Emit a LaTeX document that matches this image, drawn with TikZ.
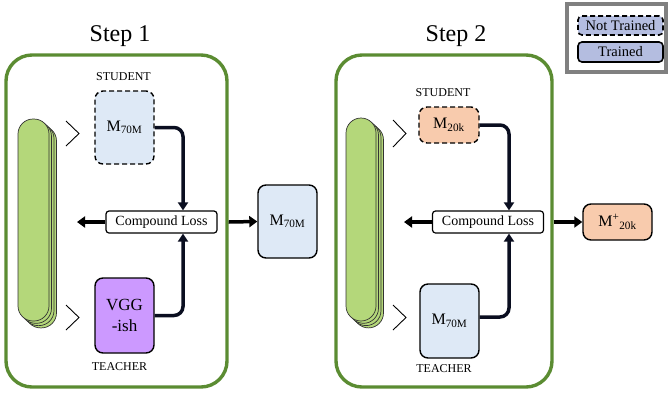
\documentclass[tikz,border=0pt]{standalone}
\usepackage{fontspec}
\setmainfont{Liberation Serif}
\usetikzlibrary{arrows.meta}
\definecolor{framegreen}{RGB}{91,140,50}
\definecolor{stackgreen}{RGB}{180,215,122}
\definecolor{lightblue}{RGB}{222,233,246}
\definecolor{peach}{RGB}{248,203,173}
\definecolor{purple}{RGB}{204,153,255}
\definecolor{lavender}{RGB}{180,189,224}
\definecolor{connc}{RGB}{10,14,32}
\tikzset{
  frame/.style={draw=framegreen, line width=3.4pt, rounded corners=26pt, inner sep=0pt},
  model/.style={draw=black, line width=1.4pt, rounded corners=8pt, inner sep=0pt, align=center, font=\fontsize{16}{18}\selectfont},
  untrained/.style={dash pattern=on 5pt off 3pt},
  role/.style={font=\fontsize{12}{14}\selectfont},
  title/.style={font=\fontsize{24}{28}\selectfont},
  lossbox/.style={draw=black, line width=1.2pt, rounded corners=3pt, fill=white, minimum width=111pt, minimum height=22pt, inner sep=0pt, font=\fontsize{14}{16}\selectfont},
  conn/.style={draw=connc, line width=3.5pt, rounded corners=9pt, -{Triangle[length=8pt,width=10pt]}},
  arr/.style={draw=black, line width=3.5pt, -{Triangle[length=8pt,width=11pt]}},
  chev/.style={draw=black, line width=0.9pt},
  stack/.style={draw=black!80, line width=0.7pt, fill=stackgreen, rounded corners=15pt},
  legbox/.style={line width=1.6pt, draw=black, fill=lavender, rounded corners=4pt, minimum width=85pt, inner sep=0pt, font=\fontsize{14.5}{16}\selectfont},
}
\begin{document}
\begin{tikzpicture}[x=1pt,y=-1pt]
\useasboundingbox (0,0) rectangle (669,392);

% ---------- Step 1 ----------
\node[title] (t1) at (120,36) {Step 1};
\node[frame, minimum width=221pt, minimum height=332pt] (f1) at (116.5,221) {};
\foreach \i in {3,2,1,0}{
  \draw[stack] (18+2.5*\i,119+2.3*\i) rectangle (49+2.5*\i,321+2.3*\i);
}
\draw[chev] (66,121) -- (79,133.5) -- (66,146);
\draw[chev] (66,305) -- (79,317.5) -- (66,330);
\node[role] (st1) at (123.5,77) {STUDENT};
\node[model, untrained, fill=lightblue, minimum width=59pt, minimum height=73pt] (s1) at (124.5,127.5) {M\textsubscript{70M}};
\node[model, fill=purple, minimum width=59pt, minimum height=75pt, font=\fontsize{17}{21}\selectfont] (v1) at (124.5,315.5) {VGG\\-ish};
\node[role] (te1) at (119.5,367) {TEACHER};
\node[lossbox] (l1) at (161.5,222) {Compound Loss};
\coordinate (o1) at (77,222);
\draw[conn] (s1.east) -| ([xshift=21.5pt]l1.north);
\draw[conn] (v1.east) -| ([xshift=21.5pt]l1.south);
\draw[arr] (l1.west) -- (o1);
\node[model, fill=lightblue, minimum width=59pt, minimum height=73pt] (m1) at (287.5,221.5) {M\textsubscript{70M}};
\draw[arr] (f1.east |- l1.east) -- (m1.west);

% ---------- Step 2 ----------
\node[title] (t2) at (456,36) {Step 2};
\node[frame, minimum width=216pt, minimum height=332pt] (f2) at (444,221) {};
\foreach \i in {3,2,1,0}{
  \draw[stack] (346+2.5*\i,118+2.3*\i) rectangle (376+2.5*\i,321+2.3*\i);
}
\draw[chev] (393,120) -- (406,133.5) -- (393,147);
\draw[chev] (393,305) -- (406,317.5) -- (393,330);
\node[role] (st2) at (443,93) {STUDENT};
\node[model, untrained, fill=peach, minimum width=60pt, minimum height=36pt] (s2) at (449,125) {M\textsubscript{20k}};
\node[model, fill=lightblue, minimum width=59pt, minimum height=74pt] (tm2) at (449.5,321) {M\textsubscript{70M}};
\node[role] (te2) at (444,369) {TEACHER};
\node[lossbox] (l2) at (488,222) {Compound Loss};
\coordinate (o2) at (404,222);
\draw[conn] (s2.east) -| ([xshift=21pt]l2.north);
\draw[conn] ([yshift=4pt]tm2.east) -| ([xshift=21pt]l2.south);
\draw[arr] (l2.west) -- (o2);
\node[model, fill=peach, minimum width=69pt, minimum height=36pt] (m2) at (617.5,222) {M\textsuperscript{+}\textsubscript{20k}};
\draw[arr] (f2.east |- l2.east) -- (m2.west);

% ---------- Legend ----------
\node[draw=black!50, line width=4pt, minimum width=99pt, minimum height=68pt, inner sep=0pt] (leg) at (616,38) {};
\node[legbox, untrained, minimum height=19pt] (nt) at (620.5,25.5) {Not Trained};
\node[legbox, minimum height=20pt] (tr) at (620.5,52) {Trained};
\end{tikzpicture}
\end{document}
